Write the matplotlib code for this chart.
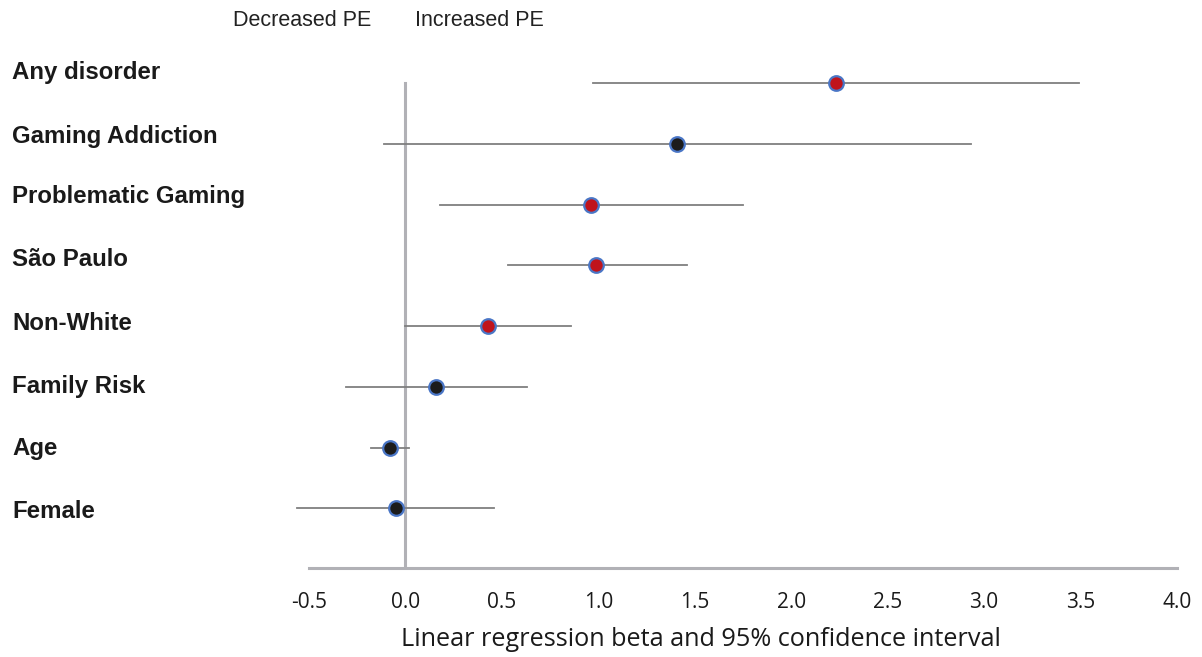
import numpy as np
import matplotlib.pyplot as plt

# forest plot: beta and 95% CI per predictor (top to bottom)
labels = ["Any disorder", "Gaming Addiction", "Problematic Gaming", "São Paulo",
          "Non-White", "Family Risk", "Age", "Female"]
beta = [2.23, 1.41, 0.96, 0.99, 0.43, 0.16, -0.08, -0.05]
ci_low = [0.97, -0.11, 0.18, 0.53, 0.00, -0.31, -0.18, -0.56]
ci_high = [3.49, 2.93, 1.75, 1.46, 0.86, 0.63, 0.02, 0.46]
significant = [True, False, True, True, True, False, False, False]
xticks = [-0.5, 0.0, 0.5, 1.0, 1.5, 2.0, 2.5, 3.0, 3.5, 4.0]

W, H = 1202, 657
fig = plt.figure(figsize=(W / 100, H / 100), dpi=100)
# axes box in pixels: x 309..1177, y 60..568
ax = fig.add_axes([309 / W, 1 - 568 / H, (1177 - 309) / W, (568 - 60) / H])

n = len(labels)
ypos = np.arange(n)[::-1]  # top row first

ax.set_xlim(-0.5, 4.0)
ax.set_ylim(-0.98, n - 0.62)

# zero line
ax.plot([0, 0], [ax.get_ylim()[0], n - 1.0], color="#b1b1b6", lw=2.2, zorder=1)

for y, b, lo, hi, sig in zip(ypos, beta, ci_low, ci_high, significant):
    ax.plot([lo, hi], [y, y], color="#7f7f7f", lw=1.3, zorder=2, clip_on=False)
    ax.plot(b, y, "o", ms=10.5, mfc="#c0141c" if sig else "#1c1c1c",
            mec="#4a76c6", mew=1.6, zorder=3)

for s in ["top", "right", "left"]:
    ax.spines[s].set_visible(False)
ax.spines["bottom"].set_color("#b1b1b6")
ax.spines["bottom"].set_linewidth(2.2)
ax.set_yticks([])
ax.set_xticks(xticks)
ax.set_xticklabels([f"{t:.1f}" for t in xticks], fontsize=15, family="Open Sans",
                   color="#1a1a1a")
ax.tick_params(axis="x", length=0, pad=17)
ax.set_xlabel("Linear regression beta and 95% confidence interval", fontsize=18.2,
              family="Open Sans", color="#1a1a1a")
ax.xaxis.set_label_coords((701 - 309) / (1177 - 309), -0.116)

# row labels (sit slightly above their rows in the original)
label_y = [73, 136, 197, 260, 324, 387, 449, 512]
for lab, yp in zip(labels, label_y):
    fig.text(12 / W, 1 - yp / H, lab, fontsize=17.3, fontweight="bold",
             family=["Liberation Sans", "DejaVu Sans"], color="#1a1a1a",
             va="center", ha="left")

fig.text(233 / W, 1 - 20 / H, "Decreased PE", fontsize=15.5,
         family=["Liberation Sans", "DejaVu Sans"], color="#222222", va="center", ha="left")
fig.text(415 / W, 1 - 20 / H, "Increased PE", fontsize=15.5,
         family=["Liberation Sans", "DejaVu Sans"], color="#222222", va="center", ha="left")

fig.savefig("out.png", dpi=100)
